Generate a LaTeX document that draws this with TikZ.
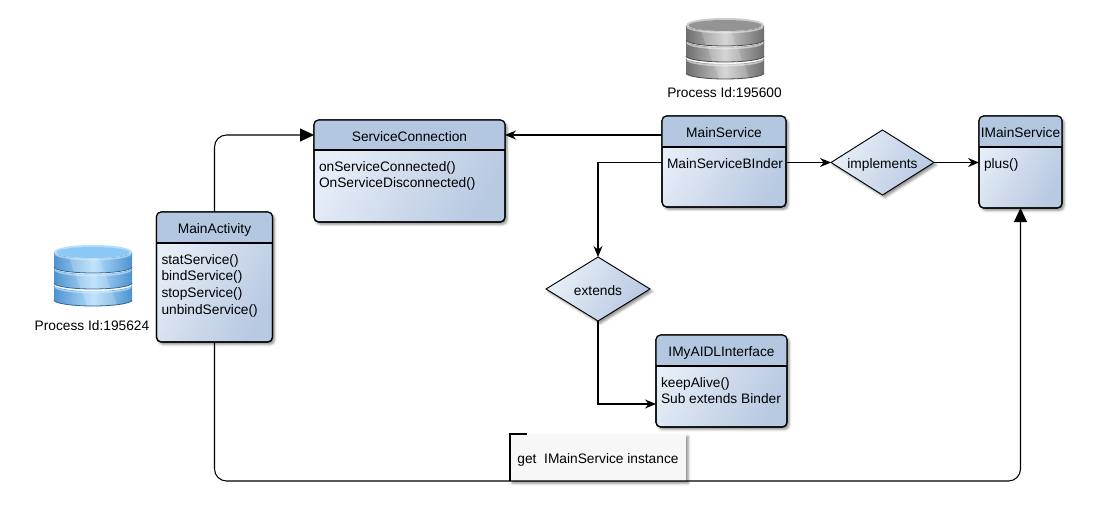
\documentclass[tikz,border=0pt]{standalone}
\usepackage{fontspec}
\setmainfont{Liberation Sans}
\usetikzlibrary{
    arrows.meta,
    positioning,
    calc,
    shapes.geometric,
    shadows.blur
}
\definecolor{headBlue}{RGB}{180,199,225}
\definecolor{bodyLight}{RGB}{232,239,248}
\definecolor{bodyDark}{RGB}{184,201,226}
\definecolor{noteGray}{RGB}{247,247,247}
\definecolor{cylBlueDark}{HTML}{4E93CF}
\definecolor{cylBlueLight}{HTML}{B4DEFC}
\definecolor{cylBlueRim}{HTML}{CFE9FC}
\definecolor{cylBlueTop}{HTML}{8CC8F5}
\definecolor{cylGrayDark}{HTML}{6E6E6E}
\definecolor{cylGrayLight}{HTML}{CCCCCC}
\definecolor{cylGrayRim}{HTML}{EDEDED}
\definecolor{cylGrayTop}{HTML}{949494}
\tikzset{
  softshadow/.style = {blur shadow={shadow xshift=1.6pt, shadow yshift=-1.8pt,
                       shadow blur radius=1.8pt, shadow opacity=45}},
  classbody/.style  = {draw, line width=0.85pt, rounded corners=3.5pt, inner sep=0pt,
                       outer sep=0pt, softshadow, left color=bodyLight,
                       right color=bodyDark, shading angle=60},
  classhead/.style  = {inner sep=0pt, outer sep=0pt, font=\classfont,
                       text height=9pt, text depth=0pt},
  classtext/.style  = {inner sep=0pt, outer sep=0pt, align=left, font=\classfont},
  relation/.style   = {diamond, draw, line width=0.7pt, inner sep=0pt, outer sep=0pt,
                       aspect=1.6, softshadow, left color=bodyLight,
                       right color=bodyDark, shading angle=60, font=\classfont,
                       text height=9pt, text depth=0pt},
  notebox/.style    = {fill=noteGray, inner sep=0pt, outer sep=0pt, softshadow},
  plainlabel/.style = {inner sep=0pt, font=\classfont, text height=9pt, text depth=0pt},
  arr/.style        = {-{Stealth[length=11pt*0.75, width=9pt*0.75]}, line width=0.8pt},
  arrb/.style       = {-{Triangle[length=14pt*0.75, width=13pt*0.75]}, line width=0.8pt}
}
\newcommand{\classfont}{\fontsize{10.3}{12.4}\selectfont}

\begin{document}
\begin{tikzpicture}[x=0.75pt, y=-0.75pt]
    \useasboundingbox (0,0) rectangle (1105,514);

    % Database icons
    \foreach \cx/\cy/\dark/\light/\rim/\topc in {
        93/245/cylBlueDark/cylBlueLight/cylBlueRim/cylBlueTop,
        725/18/cylGrayDark/cylGrayLight/cylGrayRim/cylGrayTop} {
      \foreach \dy in {40,23,7} {
        \shade[left color=\dark, right color=\dark, middle color=\light]
          (\cx-39,\cy+\dy) -- (\cx-39,\cy+\dy+15)
          arc[start angle=180, end angle=0, x radius=39, y radius=6]
          -- (\cx+39,\cy+\dy)
          arc[start angle=0, end angle=180, x radius=39, y radius=6] -- cycle;
        \draw[\rim, opacity=0.6, line width=1.2pt] (\cx-38,\cy+\dy+1.5)
          arc[start angle=180, end angle=0, x radius=38, y radius=6];
        % Glare
        \fill[white, opacity=0.18] (\cx-27+\dy*0.4,\cy+\dy+5) -- (\cx+3+\dy*0.4,\cy+\dy+5)
          -- (\cx+8+\dy*0.4,\cy+\dy+20) -- (\cx-22+\dy*0.4,\cy+\dy+20) -- cycle;
        \draw[\dark!70!black, line width=0.6pt] (\cx-39,\cy+\dy+15)
          arc[start angle=180, end angle=0, x radius=39, y radius=6];
      }
      \fill[\light] (\cx,\cy+6.5) ellipse[x radius=38.5, y radius=6.5];
      \fill[\topc] (\cx,\cy+7.5) ellipse[x radius=36.5, y radius=5.5];
    }
    \node[plainlabel] (pidactivity) at (92,324.5) {Process Id:195624};
    \node[plainlabel] (pidservice) at (724.5,91.5) {Process Id:195600};

    % Class boxes
    \foreach \name/\xa/\ya/\w/\h/\hh/\title/\body in {
        mainactivity/156.5/212/116/130/31/MainActivity/{statService()\\bindService()\\stopService()\\unbindService()},
        connection/314/120/191/102/30/ServiceConnection/{onServiceConnected()\\OnServiceDisconnected()},
        mainservice/662/116/124/91/31/MainService/{MainServiceBInder},
        imainservice/979/116/83/92/31/IMainService/{plus()},
        aidl/656/335/131/92/31/IMyAIDLInterface/{keepAlive()\\Sub extends Binder}} {
      \node[classbody, anchor=north west, minimum width=\w*0.75pt,
            minimum height=\h*0.75pt] (\name) at (\xa,\ya) {};
      \node[classhead, anchor=north west, minimum width=\w*0.75pt,
            minimum height=\hh*0.75pt] (\name-head) at (\name.north west) {};
      \fill[headBlue] (\name-head.south west) [rounded corners=3.5pt]
        -- (\name-head.north west) -- (\name-head.north east)
        [sharp corners] -- (\name-head.south east) -- cycle;
      \draw[line width=0.85pt] (\name-head.south west) -- (\name-head.south east);
      \draw[line width=0.85pt, rounded corners=3.5pt]
        (\name.north west) rectangle (\name.south east);
      \node[classhead] at (\name-head) {\title};
      \node[classtext, anchor=north west, xshift=3.75pt, yshift=-8.6pt]
        (\name-text) at (\name-head.south west) {\body};
    }

    % Relations
    \node[relation, minimum width=103*0.75pt, minimum height=65*0.75pt]
      (implements) at (882.5,162.5) {implements};
    \node[relation, minimum width=104*0.75pt, minimum height=64*0.75pt]
      (extends) at (598,289) {extends};

    % Note
    \node[notebox, anchor=north west, minimum width=176*0.75pt,
          minimum height=47*0.75pt] (note) at (510,434) {};
    \node[plainlabel] (notetext) at (598,457.5) {get\ \ IMainService instance};
    \draw[line width=0.8pt] ([xshift=12.5pt]note.north west) -- (note.north west)
      -- (note.south west);

    % Connectors
    \coordinate (aidlin) at (656,404);
    \draw[arr] (mainservice.west |- connection-head) -- (connection-head.east);
    \draw[arr] (mainservice.west |- implements) -| (extends.north);
    \draw[arr] (extends.south) |- (aidlin);
    \draw[arr] (mainservice.east |- implements) -- (implements.west);
    \draw[arr] (implements.east) -- (imainservice.west |- implements);
    \draw[arrb, rounded corners=9pt] (mainactivity.north) |- (connection-head.west);
    \draw[arrb, rounded corners=9pt] (mainactivity.south) |- (note.south)
      -| (imainservice.south);
\end{tikzpicture}
\end{document}
